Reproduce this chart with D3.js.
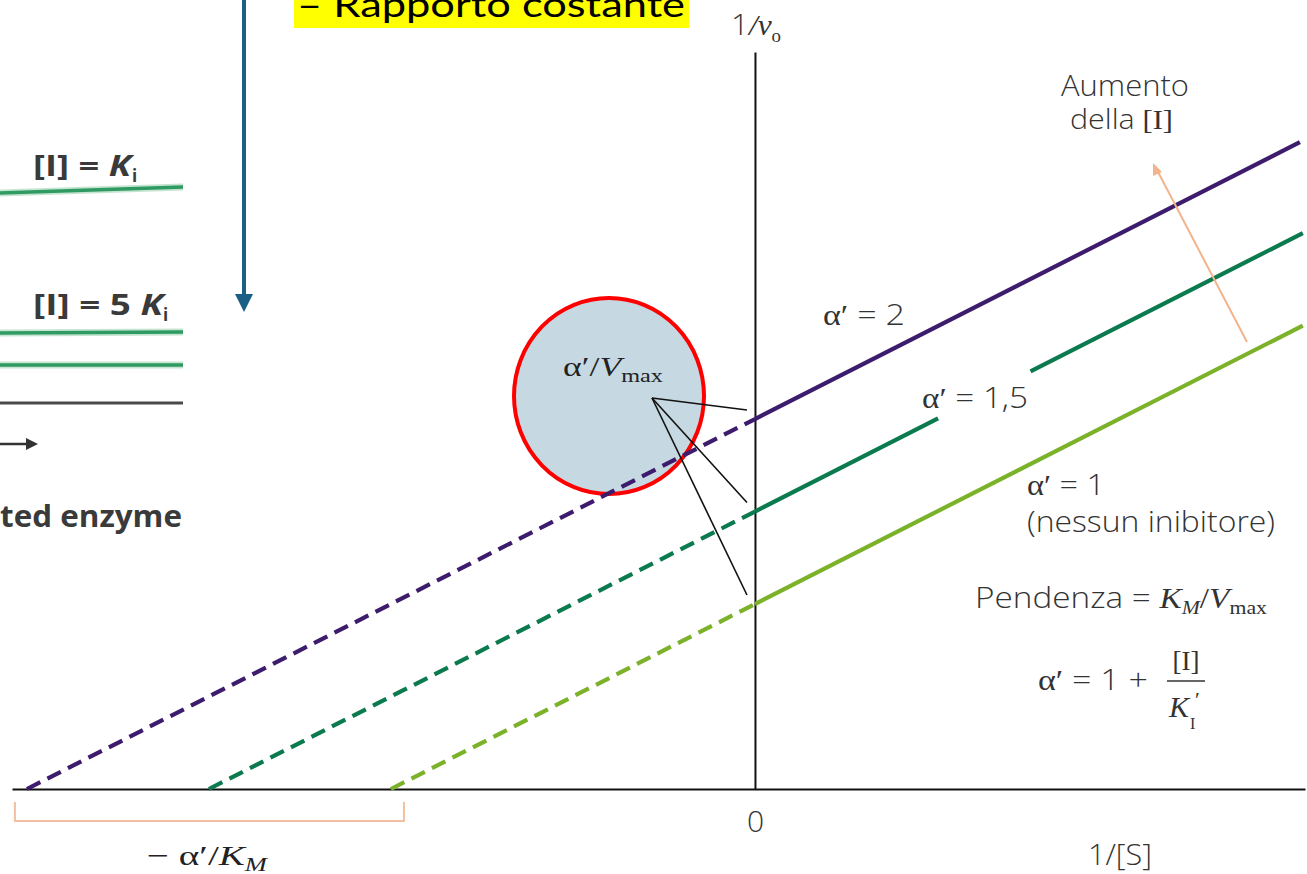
<!DOCTYPE html>
<html>
<head>
<meta charset="utf-8">
<script src="https://cdn.jsdelivr.net/npm/d3@7/dist/d3.min.js"></script>
<style>
  html, body { margin: 0; padding: 0; background: #fff; }
  svg { display: block; }
</style>
</head>
<body>
<svg id="chart" width="1307" height="874"></svg>
<script>
// Lineweaver–Burk plot, uncompetitive inhibition: 1/v0 = α'/Vmax + (KM/Vmax)·1/[S]
const alphaValues = [1, 1.5, 2];                 // α' = 1 + [I]/K'I
const alphaLabels = ["1", "1,5", "2"];
const lineColors  = ["#7cb22a", "#0b7a4e", "#3d1b6d"];
const Vmax = 1;
const KM = 1;
const solidEnd = [1.505, 1.505, 1.497];          // last 1/[S] drawn for each line
const labelGap = [0.503, 0.757];                 // 1/[S] span left open on the α' = 1,5 line
const xTickValues = [0];

const W = 1307, H = 874;
const SANS  = "'Open Sans', 'Liberation Sans', sans-serif";
const SERIF = "'Liberation Serif', 'DejaVu Serif', serif";
const INK = "#333";

const svg = d3.select("#chart");
svg.append("rect").attr("width", W).attr("height", H).attr("fill", "#fff");

const x = d3.scaleLinear().domain([-2.041, 1.511]).range([12, 1305]);
const y = d3.scaleLinear().domain([0, 3.984]).range([789, 52]);

const line = d3.line().x(d => x(d[0])).y(d => y(d[1]));

// text helper: parts are [string, kind, dy, size]
const styles = {
  sans:   { family: SANS,  weight: 300, style: "normal" },
  bold:   { family: SANS,  weight: 700, style: "normal" },
  boldI:  { family: SANS,  weight: 700, style: "italic" },
  serif:  { family: SERIF, weight: 400, style: "normal" },
  serifI: { family: SERIF, weight: 400, style: "italic" }
};
function label(g, xp, yp, parts, opt = {}) {
  const t = g.append("text").attr("x", xp).attr("y", yp)
    .attr("font-size", opt.size || 28).attr("fill", opt.fill || INK);
  if (opt.anchor) t.attr("text-anchor", opt.anchor);
  parts.forEach(([s, kind, dy, size]) => {
    const st = styles[kind || "sans"];
    const sp = t.append("tspan").attr("font-family", st.family)
      .attr("font-weight", st.weight).attr("font-style", st.style).text(s);
    if (dy) sp.attr("dy", dy);
    if (size) sp.attr("font-size", size);
  });
  if (opt.width) t.attr("textLength", opt.width).attr("lengthAdjust", "spacingAndGlyphs");
  return t;
}

// ---------- fragment of the neighbouring panel (left) ----------
const left = svg.append("g");
left.append("line").attr("x1", 244).attr("y1", 0).attr("x2", 244).attr("y2", 298)
  .attr("stroke", "#1c5f86").attr("stroke-width", 4);
left.append("path").attr("d", "M235,294 L253,294 L244,312 Z").attr("fill", "#1c5f86");

left.append("rect").attr("x", 294).attr("y", 0).attr("width", 395).attr("height", 28).attr("fill", "#ffff00");
left.append("text").attr("x", 297).attr("y", 17)
  .attr("font-family", "Lato, 'Open Sans', sans-serif").attr("font-size", 34).attr("fill", "#000")
  .attr("textLength", 388).attr("lengthAdjust", "spacingAndGlyphs")
  .text("– Rapporto costante");

const greenLines = [[193, 187], [333, 332], [365, 365]];
greenLines.forEach(([a, b]) => {
  left.append("line").attr("x1", 0).attr("y1", a).attr("x2", 183).attr("y2", b)
    .attr("stroke", "#9fd4b4").attr("stroke-width", 7).attr("opacity", 0.6);
  left.append("line").attr("x1", 0).attr("y1", a).attr("x2", 183).attr("y2", b)
    .attr("stroke", "#2f9a62").attr("stroke-width", 3.5);
});
left.append("line").attr("x1", 0).attr("y1", 403).attr("x2", 183).attr("y2", 403)
  .attr("stroke", "#4a4a4a").attr("stroke-width", 3);
left.append("line").attr("x1", 0).attr("y1", 444).attr("x2", 30).attr("y2", 444)
  .attr("stroke", "#333").attr("stroke-width", 2.5);
left.append("path").attr("d", "M26,438 L38,444 L26,450 Z").attr("fill", "#333");

label(left, 33, 176, [["[I] = ", "bold"], ["K", "boldI"]], { size: 29, width: 98, fill: "#3a3a3a" });
label(left, 132, 182, [["i", "bold"]], { size: 17, fill: "#3a3a3a" });
label(left, 33, 315, [["[I] = 5 ", "bold"], ["K", "boldI"]], { size: 29, width: 130, fill: "#3a3a3a" });
label(left, 163, 321, [["i", "bold"]], { size: 17, fill: "#3a3a3a" });

label(left, 0, 527, [["ted enzyme", "bold"]], { size: 30, width: 182, fill: "#3a3a3a" });

// ---------- highlight circle around the y-intercepts label ----------
svg.append("ellipse").attr("cx", 609).attr("cy", 396).attr("rx", 95).attr("ry", 98)
  .attr("fill", "#c6d9e2").attr("stroke", "#ff0000").attr("stroke-width", 4);

// ---------- axes ----------
const xAxis = svg.append("g").attr("transform", `translate(0,${y(0)})`)
  .call(d3.axisBottom(x).tickValues(xTickValues).tickSize(0).tickSizeOuter(0).tickPadding(22)
    .tickFormat(d3.format("d")));
xAxis.select(".domain").attr("stroke", "#111").attr("stroke-width", 2);
xAxis.selectAll("text").attr("font-family", SANS).attr("font-weight", 300)
  .attr("font-size", 30).attr("fill", INK);

const yAxis = svg.append("g").attr("transform", `translate(${x(0)},0)`)
  .call(d3.axisLeft(y).tickValues([]).tickSizeOuter(0));
yAxis.select(".domain").attr("stroke", "#111").attr("stroke-width", 2);

// ---------- inhibition lines ----------
const series = alphaValues.map((a, i) => ({
  alpha: a,
  color: lineColors[i],
  intercept: a / Vmax,
  slope: KM / Vmax,
  xInt: -a / KM,
  end: solidEnd[i]
}));
const f = (s, v) => s.intercept + s.slope * v;

const lines = svg.append("g").attr("fill", "none").attr("stroke-width", 4.2);
series.forEach(s => {
  lines.append("path")
    .attr("d", line([[s.xInt, 0], [0, s.intercept]]))
    .attr("stroke", s.color).attr("stroke-dasharray", "15 8");
  const segs = s.alpha === 1.5
    ? [[0, labelGap[0]], [labelGap[1], s.end]]
    : [[0, s.end]];
  segs.forEach(([a, b]) => {
    lines.append("path").attr("d", line([[a, f(s, a)], [b, f(s, b)]])).attr("stroke", s.color);
  });
});

// pointers from the α'/Vmax label to each intercept
const pointerOrigin = [652, 398];
const pointers = svg.append("g").attr("stroke", "#111").attr("stroke-width", 1.6);
series.forEach(s => {
  pointers.append("line")
    .attr("x1", pointerOrigin[0]).attr("y1", pointerOrigin[1])
    .attr("x2", x(0) - 8).attr("y2", y(s.intercept) - 9);
});

// ---------- labels ----------
const lab = svg.append("g");

// α'/Vmax inside circle
label(lab, 563, 376, [["α′/", "serif"], ["V", "serifI"], ["max", "serif", 6, 19]],
  { size: 28, width: 100, fill: "#222" });

// y-axis title 1/v0
label(lab, 731, 35, [["1", "sans"], ["/v", "serifI"], ["o", "serif", 7, 18]], { size: 30, width: 50 });

// x-axis title
label(lab, 1088, 865, [["1/[S]", "sans"]], { size: 30, width: 64 });

// bracket under the x-intercepts
svg.append("path")
  .attr("d", `M${x(-2.033)},802 V821 H${x(series[0].xInt) + 13} V802`)
  .attr("fill", "none").attr("stroke", "#f2c0a0").attr("stroke-width", 2);
label(lab, 147, 865, [["− α′/", "serif"], ["K", "serifI"], ["M", "serifI", 6, 19]],
  { size: 28, width: 120, fill: "#222" });

// α' labels next to the lines
label(lab, 823, 325, [["α′", "serif"], [" = " + alphaLabels[2], "sans"]], { size: 29, width: 82 });
label(lab, 922, 408, [["α′", "serif"], [" = " + alphaLabels[1], "sans"]], { size: 29, width: 106 });
label(lab, 1027, 495, [["α′", "serif"], [" = " + alphaLabels[0], "sans"]], { size: 29, width: 78 });
label(lab, 1027, 532, [["(nessun inibitore)", "sans"]], { size: 29, width: 248 });

// slope
label(lab, 975, 608, [["Pendenza = ", "sans"], ["K", "serifI"], ["M", "serifI", 6, 19],
  ["/", "serif", -6], ["V", "serifI"], ["max", "serif", 6, 19]], { size: 29, width: 292 });

// α' = 1 + [I]/K'I
label(lab, 1038, 690, [["α′", "serif"], [" = 1 +", "sans"]], { size: 29, width: 110 });
label(lab, 1186, 670, [["[I]", "serif"]], { size: 27, anchor: "middle" });
lab.append("line").attr("x1", 1167).attr("x2", 1205).attr("y1", 681).attr("y2", 681)
  .attr("stroke", INK).attr("stroke-width", 1.5);
label(lab, 1169, 717, [["K", "serifI"]], { size: 30 });
label(lab, 1190, 729, [["I", "serif"]], { size: 16 });
label(lab, 1195, 707, [["′", "serif"]], { size: 22 });

// increasing [I] arrow
svg.append("line").attr("x1", 1247).attr("y1", 342).attr("x2", 1157).attr("y2", 170)
  .attr("stroke", "#f3b48c").attr("stroke-width", 2);
svg.append("path").attr("d", "M1153,163 L1153,176 L1162,172 Z").attr("fill", "#f3b48c");
label(lab, 1125, 96, [["Aumento", "sans"]], { size: 29, width: 128, anchor: "middle" });
label(lab, 1070, 129, [["della ", "sans"], ["[I]", "serif"]], { size: 27, width: 103 });
</script>
</body>
</html>
